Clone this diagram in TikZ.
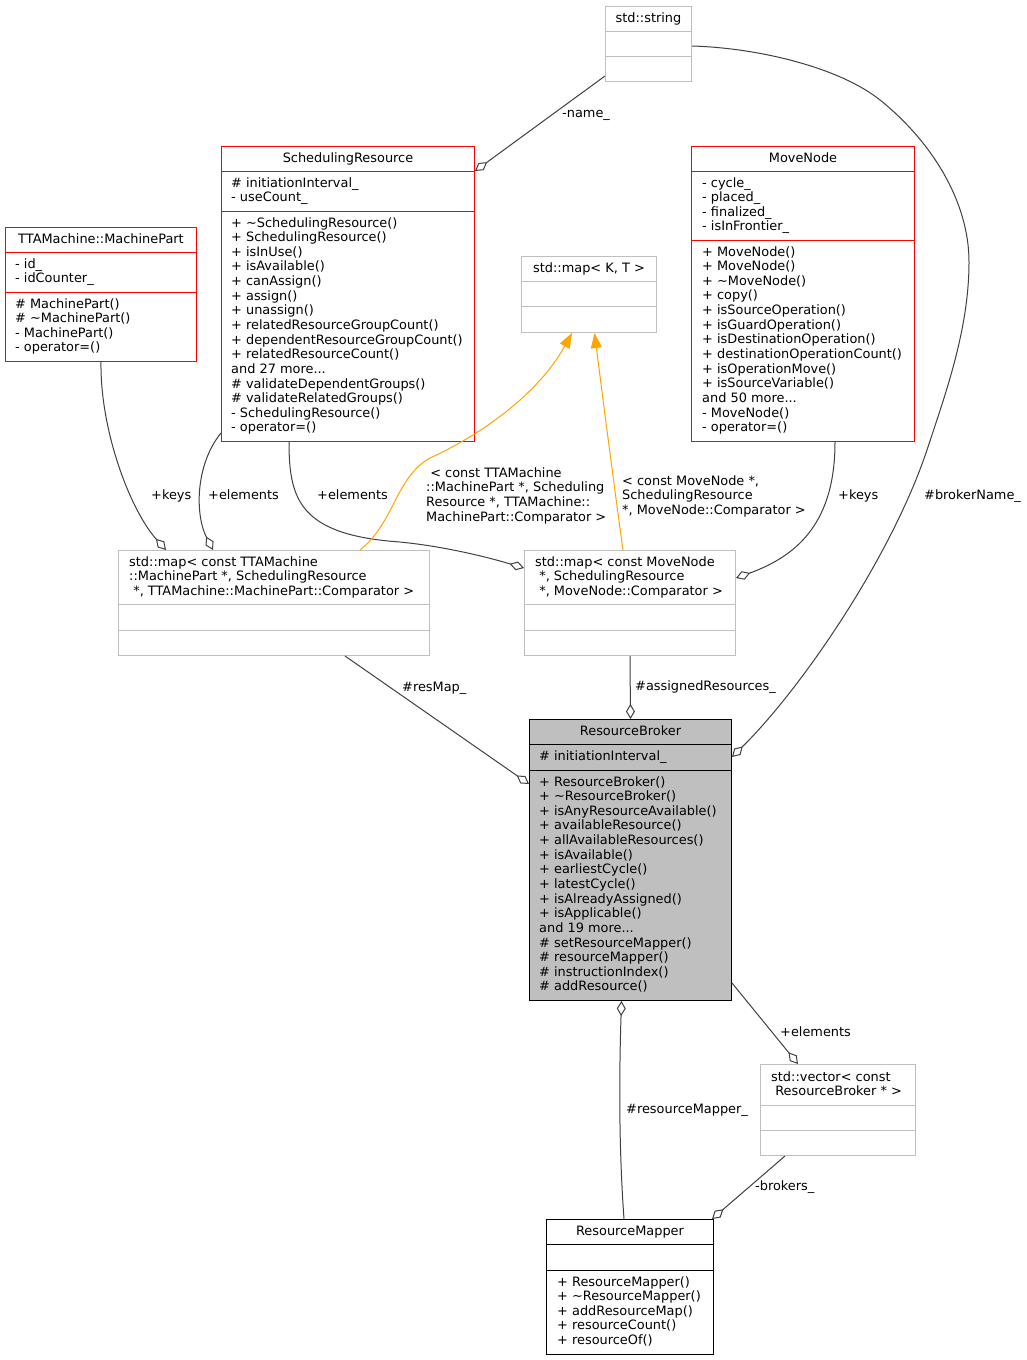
\documentclass[tikz,border=0pt]{standalone}
\usepackage{fontspec}
\setmainfont{DejaVu Sans}
\usetikzlibrary{arrows.meta, positioning, calc}
\definecolor{class_red}{RGB}{255, 0, 0}
\definecolor{std_gray}{RGB}{191, 191, 191}
\definecolor{broker_gray}{RGB}{191, 191, 191}
\definecolor{edge_gray}{RGB}{64, 64, 64}
\definecolor{tmpl_orange}{RGB}{255, 165, 0}
\newcommand{\umlfont}{\fontsize{12.9}{14.64}\selectfont}
\def \tl {\textasciitilde{}}
% lines of a compartment, baseline on the first line
\newcommand{\stack}[1]{\begin{tabular}[t]{@{}l@{}}#1\end{tabular}}

% class box: name, border, fill, north west corner, width, height, dividers
\newcommand{\classbox}[7]{%
  \node[umlbox=#2, fill=#3, minimum width=#5pt, minimum height=#6pt] (#1) at (#4) {};
  \foreach \off in {#7}
    \draw[#2, line width=1pt] ($(#1.north west)+(0,\off)$) -- ++(#5,0);
}

\begin{document}
\begin{tikzpicture}[
    x=1pt, y=-1pt,
    umlbox/.style={
        rectangle,
        draw=#1,
        line width=1pt,
        anchor=north west,
        inner sep=0pt
    },
    classname/.style={
        anchor=base,
        inner sep=0pt,
        font=\umlfont
    },
    members/.style={
        anchor=base west,
        inner sep=0pt,
        font=\umlfont
    },
    role/.style={
        anchor=base west,
        inner sep=0pt,
        font=\umlfont
    },
    agg/.style={
        {Diamond[open, length=15pt, width=9pt]}-,
        edge_gray,
        line width=1pt
    },
    inst/.style={
        -{Triangle[length=15pt, width=11pt]},
        tmpl_orange,
        line width=1pt
    }
]
\fill[white] (0,0) rectangle (1027,1360);
\useasboundingbox (0,0) rectangle (1027,1360);

% std classes
\classbox{string}{std_gray}{white}{605,6}{86}{75}{25,50}
\node[classname] (string-name) at ($(string.north)+(0,16)$) {std::string};

\classbox{mapkt}{std_gray}{white}{521,256}{135}{76}{25,50}
\node[classname] (mapkt-name) at ($(mapkt.north)+(0,16)$) {std::map< K, T >};

% SchedulingResource
\classbox{sched}{class_red}{white}{221,146}{253}{295}{25,65}
\node[classname] (sched-name) at ($(sched.north)+(0,16)$) {SchedulingResource};
\node[members] (sched-attr) at ($(sched.north west)+(10,41)$) {\stack{\# initiationInterval\_\\- useCount\_}};
\node[members] (sched-ops) at ($(sched.north west)+(10,81)$) {\stack{+ \tl SchedulingResource()\\+ SchedulingResource()\\+ isInUse()\\+ isAvailable()\\+ canAssign()\\+ assign()\\+ unassign()\\+ relatedResourceGroupCount()\\+ dependentResourceGroupCount()\\+ relatedResourceCount()\\and 27 more...\\\# validateDependentGroups()\\\# validateRelatedGroups()\\- SchedulingResource()\\- operator=()}};

% TTAMachine::MachinePart
\classbox{part}{class_red}{white}{5,227}{191}{134}{25,65}
\node[classname] (part-name) at ($(part.north)+(0,16)$) {TTAMachine::MachinePart};
\node[members] (part-attr) at ($(part.north west)+(10,41)$) {\stack{- id\_\\- idCounter\_}};
\node[members] (part-ops) at ($(part.north west)+(10,81)$) {\stack{\# MachinePart()\\\# \tl MachinePart()\\- MachinePart()\\- operator=()}};

% MoveNode
\classbox{movenode}{class_red}{white}{691,146}{223}{295}{25,94}
\node[classname] (movenode-name) at ($(movenode.north)+(0,16)$) {MoveNode};
\node[members] (movenode-attr) at ($(movenode.north west)+(11,41)$) {\stack{- cycle\_\\- placed\_\\- finalized\_\\- isInFrontier\_}};
\node[members] (movenode-ops) at ($(movenode.north west)+(11,110)$) {\stack{+ MoveNode()\\+ MoveNode()\\+ \tl MoveNode()\\+ copy()\\+ isSourceOperation()\\+ isGuardOperation()\\+ isDestinationOperation()\\+ destinationOperationCount()\\+ isOperationMove()\\+ isSourceVariable()\\and 50 more...\\- MoveNode()\\- operator=()}};

% the two maps
\classbox{map1}{std_gray}{white}{118,550}{311}{105}{54,80}
\node[members] (map1-name) at ($(map1.north west)+(11,16)$) {\stack{std::map< const TTAMachine\\::MachinePart *, SchedulingResource\\~*, TTAMachine::MachinePart::Comparator >}};

\classbox{map2}{std_gray}{white}{524,550}{211}{105}{54,80}
\node[members] (map2-name) at ($(map2.north west)+(11,16)$) {\stack{std::map< const MoveNode\\~*, SchedulingResource\\~*, MoveNode::Comparator >}};

% ResourceBroker
\classbox{broker}{black}{broker_gray}{529,719}{202}{281}{25,51}
\node[classname] (broker-name) at ($(broker.north)+(0,16)$) {ResourceBroker};
\node[members] (broker-attr) at ($(broker.north west)+(10,41)$) {\# initiationInterval\_};
\node[members] (broker-ops) at ($(broker.north west)+(10,67)$) {\stack{+ ResourceBroker()\\+ \tl ResourceBroker()\\+ isAnyResourceAvailable()\\+ availableResource()\\+ allAvailableResources()\\+ isAvailable()\\+ earliestCycle()\\+ latestCycle()\\+ isAlreadyAssigned()\\+ isApplicable()\\and 19 more...\\\# setResourceMapper()\\\# resourceMapper()\\\# instructionIndex()\\\# addResource()}};

% std::vector
\classbox{vector}{std_gray}{white}{760,1064}{155}{91}{41,66}
\node[members] (vector-name) at ($(vector.north west)+(11,17)$) {\stack{std::vector< const\\~ResourceBroker * >}};

% ResourceMapper
\classbox{mapper}{black}{white}{546,1219}{167}{135}{25,51}
\node[classname] (mapper-name) at ($(mapper.north)+(0,16)$) {ResourceMapper};
\node[members] (mapper-ops) at ($(mapper.north west)+(11,67)$) {\stack{+ ResourceMapper()\\+ \tl ResourceMapper()\\+ addResourceMap()\\+ resourceCount()\\+ resourceOf()}};

% aggregations
\draw[agg] ($(sched.north east)+(0,25)$) -- ($(string.south west)+(0,-6)$);
\draw[agg] ($(broker.north east)+(0,38)$) .. controls (800,690) and (890,560) .. (927,450)
    .. controls (945,395) and (969,330) .. (969,262)
    .. controls (969,200) and (930,140) .. (880,100)
    .. controls (840,68) and (760,48) .. ($(string.north east)+(0,40)$);
\draw[agg] ($(map1.north west)+(48,0)$) .. controls (130,510) and (100,430) .. (part.south);
\draw[agg] ($(map1.north west)+(95,0)$) .. controls (195,515) and (195,465) .. ($(sched.south west)+(0,-9)$);
\draw[agg] ($(map2.north west)+(0,18)$) .. controls (480,555) and (440,546) .. (400,542)
    .. controls (300,535) and (289,500) .. ($(sched.south west)+(68,0)$);
\draw[agg] ($(map2.north east)+(0,28)$) .. controls (800,555) and (835,520) .. ($(movenode.south west)+(144,0)$);
\draw[agg] (broker.north) -- (map2.south);
\draw[agg] ($(broker.north west)+(0,65)$) -- ($(map1.south west)+(227,0)$);
\draw[agg] ($(vector.north west)+(38,0)$) -- ($(broker.south east)+(0,-18)$);
\draw[agg] ($(broker.south)+(-9,0)$) .. controls (619,1080) and (619,1150) .. ($(mapper.north)+(-6,0)$);
\draw[agg] ($(mapper.north east)+(-2,0)$) -- ($(vector.south west)+(25,0)$);

% template instances
\draw[inst] ($(map1.north west)+(242,0)$) .. controls (395,522) and (395,478) .. (430,458)
    .. controls (470,440) and (535,400) .. ($(mapkt.south)+(-17,0)$);
\draw[inst] ($(map2.north west)+(99,0)$) .. controls (616,500) and (603,400) .. ($(mapkt.south)+(5.5,0)$);

% edge labels
\node[role] (lbl-name) at (562,117.5) {-name\_};
\node[role] (lbl-brokername) at (924,499) {\#brokerName\_};
\node[role] (lbl-keys1) at (151,499) {+keys};
\node[role] (lbl-elem1) at (208,499) {+elements};
\node[role] (lbl-elem2) at (317,499) {+elements};
\node[role] (lbl-tmpl1) at (426,477.3) {\stack{~< const TTAMachine\\::MachinePart *, Scheduling\\Resource *, TTAMachine::\\MachinePart::Comparator >}};
\node[role] (lbl-tmpl2) at (622,485) {\stack{< const MoveNode *,\\SchedulingResource\\{}*, MoveNode::Comparator >}};
\node[role] (lbl-keys2) at (838,499) {+keys};
\node[role] (lbl-assigned) at (635,690.7) {\#assignedResources\_};
\node[role] (lbl-resmap) at (402,691) {\#resMap\_};
\node[role] (lbl-elem3) at (780,1036) {+elements};
\node[role] (lbl-mapper) at (626,1113) {\#resourceMapper\_};
\node[role] (lbl-brokers) at (755,1190.7) {-brokers\_};

\end{tikzpicture}
\end{document}
